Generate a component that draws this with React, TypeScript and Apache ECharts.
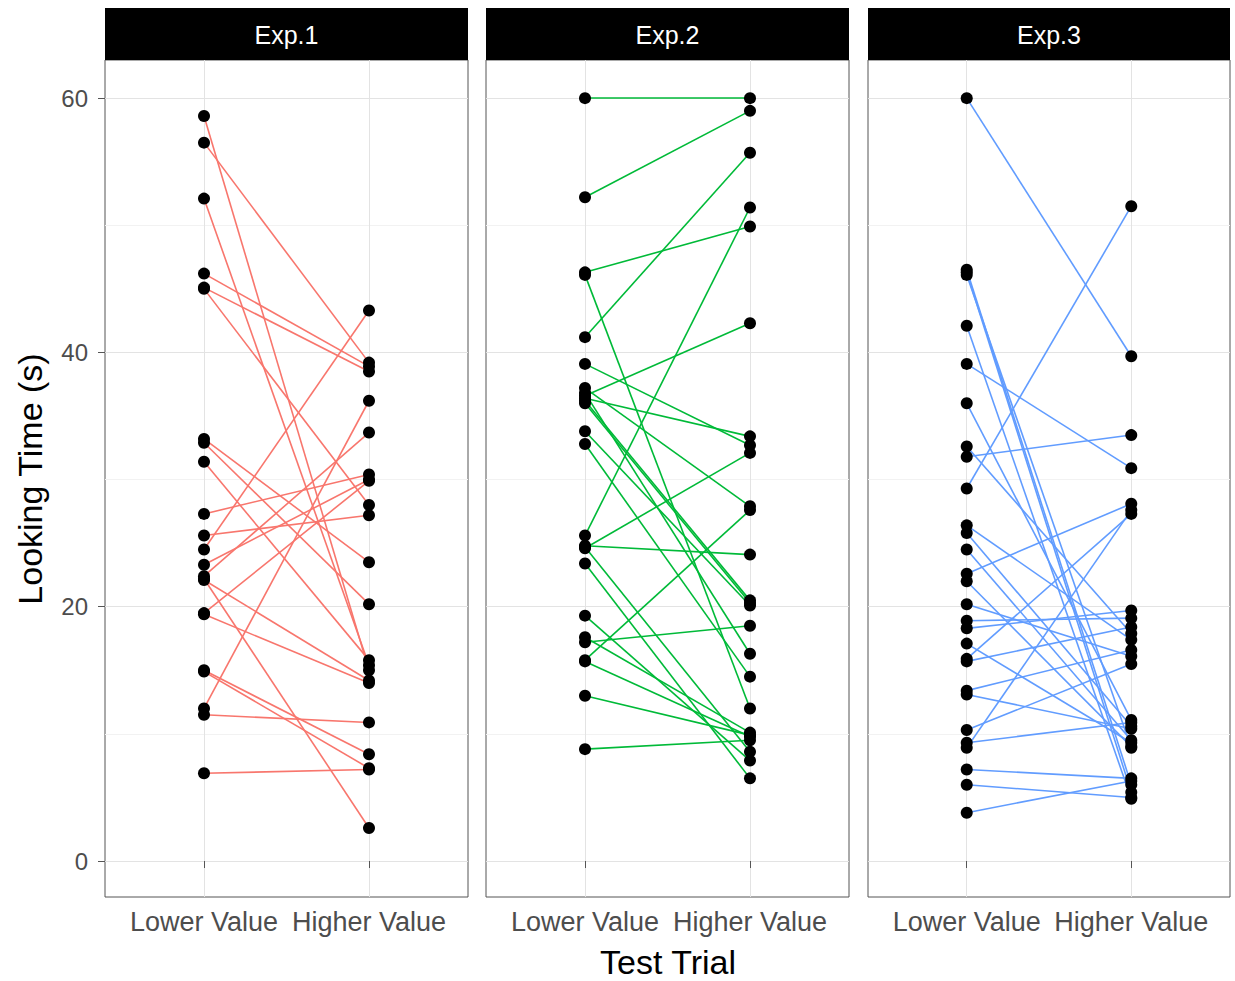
import React, { useEffect, useRef } from "react";
import * as echarts from "echarts";

const panelTitles = ["Exp.1", "Exp.2", "Exp.3"];
const trialLabels = ["Lower Value", "Higher Value"];
const yTicks = [0, 20, 40, 60];
const yMinor = [10, 30, 50];
const pairColors = ["#F8766D", "#00BA38", "#619CFF"];

const exp1Lower = [58.6, 56.5, 52.1, 46.2, 45.1, 45.0, 33.2, 32.9, 31.4, 27.3, 25.6, 24.5, 23.3, 22.4, 22.2, 22.1, 19.5, 19.4, 15.0, 14.9, 12.0, 11.5, 6.9];
const exp1Higher = [15.0, 39.2, 15.4, 38.9, 38.5, 28.0, 23.5, 20.2, 15.8, 30.4, 27.2, 43.3, 30.0, 33.7, 2.6, 14.2, 29.9, 14.0, 8.4, 7.3, 36.2, 10.9, 7.2];

const exp2Lower = [60.0, 52.2, 41.2, 25.6, 46.3, 36.6, 39.1, 36.4, 24.6, 37.2, 15.8, 24.8, 36.2, 36.0, 33.8, 17.2, 36.8, 32.8, 46.1, 17.6, 15.7, 8.8, 24.7, 19.3, 23.4, 13.0];
const exp2Higher = [60.0, 59.0, 55.7, 51.4, 49.9, 42.3, 32.7, 33.4, 32.1, 27.9, 27.6, 24.1, 20.5, 20.3, 20.1, 18.5, 16.3, 14.5, 12.0, 10.1, 9.8, 9.5, 8.6, 7.9, 6.5, 9.9];

const exp3Lower = [60.0, 46.5, 46.3, 46.1, 42.1, 39.1, 36.0, 32.6, 31.8, 29.3, 26.4, 25.8, 24.5, 22.6, 22.0, 20.2, 18.9, 18.3, 17.1, 15.9, 15.7, 13.4, 13.1, 10.3, 9.3, 8.9, 7.2, 6.0, 3.8];
const exp3Higher = [39.7, 6.0, 5.4, 8.9, 4.9, 30.9, 11.1, 17.9, 33.5, 51.5, 17.4, 10.6, 9.5, 28.1, 9.0, 16.1, 19.1, 19.7, 9.3, 27.3, 18.4, 16.6, 10.4, 15.5, 10.9, 27.6, 6.5, 5.0, 6.3];

const lowerSets = [exp1Lower, exp2Lower, exp3Lower];
const higherSets = [exp1Higher, exp2Higher, exp3Higher];

const FONT = '"Liberation Sans", Arial, Helvetica, sans-serif';

export default function App() {
  const ref = useRef<HTMLDivElement>(null);

  useEffect(() => {
    if (!ref.current) return;
    const chart = echarts.init(ref.current, null, { renderer: "svg" });

    const lefts = [105, 486, 868];
    const widths = [363, 363, 362];
    const top = 60;
    const height = 837;

    const grids: any[] = [];
    const xAxes: any[] = [];
    const yAxes: any[] = [];
    const series: any[] = [];
    const graphics: any[] = [];

    for (let i = 0; i < 3; i++) {
      grids.push({
        left: lefts[i],
        top,
        width: widths[i],
        height,
        show: true,
        borderColor: "#555",
        borderWidth: 1,
        backgroundColor: "transparent",
        containLabel: false,
      });
      xAxes.push({
        type: "value",
        gridIndex: i,
        min: 0.4,
        max: 2.6,
        axisLine: { show: false },
        splitLine: { show: false },
        axisTick: {
          show: true,
          customValues: [1, 2],
          length: 7,
          lineStyle: { color: "#555", width: 1 },
        },
        axisLabel: {
          show: true,
          customValues: [1, 2],
          formatter: (v: number) => trialLabels[Math.round(v) - 1] || "",
          color: "#4D4D4D",
          fontSize: 27,
          fontFamily: FONT,
          margin: 11,
        },
      });
      yAxes.push({
        type: "value",
        gridIndex: i,
        min: -2.83,
        max: 63.0,
        axisLine: { show: false },
        splitLine: { show: false },
        axisTick: {
          show: i === 0,
          customValues: yTicks,
          length: 7,
          lineStyle: { color: "#555", width: 1 },
        },
        axisLabel: {
          show: i === 0,
          customValues: yTicks,
          color: "#4D4D4D",
          fontSize: 24,
          fontFamily: FONT,
          margin: 17,
        },
      });

      const gridData: any[] = [];
      yMinor.forEach((v) =>
        gridData.push({ yAxis: v, lineStyle: { color: "#F2F2F2", width: 1, type: "solid" } })
      );
      yTicks.forEach((v) =>
        gridData.push({ yAxis: v, lineStyle: { color: "#E3E3E3", width: 1, type: "solid" } })
      );
      [1, 2].forEach((v) =>
        gridData.push({ xAxis: v, lineStyle: { color: "#E3E3E3", width: 1, type: "solid" } })
      );
      series.push({
        type: "line",
        xAxisIndex: i,
        yAxisIndex: i,
        data: [],
        z: 0,
        silent: true,
        markLine: {
          silent: true,
          z: 0,
          symbol: "none",
          label: { show: false },
          data: gridData,
          animation: false,
        },
      });

      const lower = lowerSets[i];
      const higher = higherSets[i];
      series.push({
        type: "lines",
        coordinateSystem: "cartesian2d",
        xAxisIndex: i,
        yAxisIndex: i,
        z: 6,
        silent: true,
        lineStyle: { color: pairColors[i], width: 1.6, opacity: 1 },
        data: lower.map((a, k) => ({ coords: [[1, a], [2, higher[k]]] })),
      });
      const pts: number[][] = [];
      lower.forEach((a) => pts.push([1, a]));
      higher.forEach((b) => pts.push([2, b]));
      series.push({
        type: "scatter",
        xAxisIndex: i,
        yAxisIndex: i,
        z: 7,
        symbol: "circle",
        symbolSize: 12,
        itemStyle: { color: "#000", opacity: 1 },
        data: pts,
      });

      graphics.push({
        type: "rect",
        shape: { x: lefts[i], y: 8, width: widths[i], height: 52 },
        style: { fill: "#000" },
      });
      graphics.push({
        type: "text",
        x: lefts[i] + widths[i] / 2,
        y: 35,
        style: {
          text: panelTitles[i],
          fill: "#fff",
          font: `25px ${FONT}`,
          textAlign: "center",
          textVerticalAlign: "middle",
          align: "center",
          verticalAlign: "middle",
        },
      });
    }

    graphics.push({
      type: "text",
      x: 30,
      y: 479,
      rotation: Math.PI / 2,
      style: {
        text: "Looking Time (s)",
        fill: "#000",
        font: `34px ${FONT}`,
        textAlign: "center",
        textVerticalAlign: "middle",
        align: "center",
        verticalAlign: "middle",
      },
    });
    graphics.push({
      type: "text",
      x: 668,
      y: 962,
      style: {
        text: "Test Trial",
        fill: "#000",
        font: `34px ${FONT}`,
        textAlign: "center",
        textVerticalAlign: "middle",
        align: "center",
        verticalAlign: "middle",
      },
    });

    chart.setOption({
      animation: false,
      backgroundColor: "#fff",
      grid: grids,
      xAxis: xAxes,
      yAxis: yAxes,
      series,
      graphic: graphics,
    });

    return () => chart.dispose();
  }, []);

  return (
    <div
      ref={ref}
      style={{ position: "fixed", left: 0, top: 0, width: 1235, height: 981 }}
    />
  );
}
